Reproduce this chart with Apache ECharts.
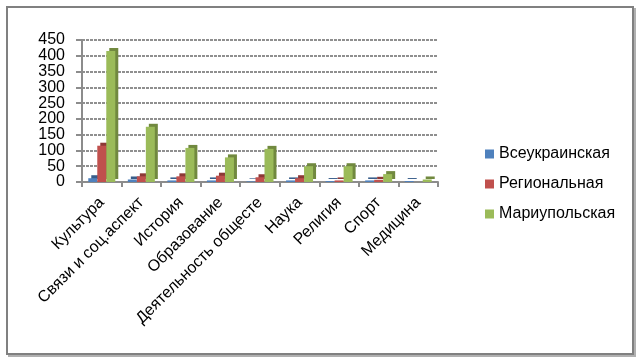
<!DOCTYPE html>
<html>
<head>
<meta charset="utf-8">
<script src="https://cdn.jsdelivr.net/npm/echarts@6/dist/echarts.min.js"></script>
<style>
  html, body { margin: 0; padding: 0; background: #fff; }
  #frame {
    position: absolute; left: 6px; top: 6px; width: 628px; height: 349px;
    border: 2px solid #808080; box-sizing: border-box;
    box-shadow: 2px 2px 0 #b0b0b0;
  }
  #chart { position: absolute; left: 0; top: 0; width: 642px; height: 363px; }
</style>
</head>
<body>
<div id="frame"></div>
<div id="chart"></div>
<script>
const categories = ['Культура', 'Связи и соц.аспект', 'История', 'Образование',
  'Деятельность общесте', 'Наука', 'Религия', 'Спорт', 'Медицина'];
const allUkraine = [12, 8, 5, 5, 2, 5, 3, 5, 3];
const regional = [115, 18, 18, 20, 15, 12, 5, 7, 0];
const mariupol = [415, 175, 108, 78, 105, 50, 50, 25, 8];
const seriesNames = ['Всеукраинская', 'Региональная', 'Мариупольская'];
const Y_MAX = 450;
const Y_STEP = 50;

const FONT = 'Liberation Sans';

const makeSeries = (name, data, color, side) => ({
  name: name,
  type: 'bar',
  data: data,
  yAxisIndex: 0,
  barWidth: 9,
  barGap: '0%',
  itemStyle: {
    color: color,
    shadowColor: side,
    shadowBlur: 0,
    shadowOffsetX: 3,
    shadowOffsetY: -3,
  },
});

// labels are split over two overlaid axes so that none of them get hidden
const labelAxis = (keep, showMin, showMax) => ({
  type: 'value',
  position: 'left',
  offset: 0,
  min: 0,
  max: Y_MAX,
  interval: Y_STEP,
  axisLine: { show: false },
  axisTick: { show: false },
  splitLine: { show: false },
  axisLabel: {
    fontSize: 16,
    color: '#000',
    fontFamily: FONT,
    margin: 17,
    showMinLabel: showMin,
    showMaxLabel: showMax,
    formatter: (v) => (keep(v) ? String(v) : ''),
  },
});

const chart = echarts.init(document.getElementById('chart'), null, { renderer: 'canvas' });
chart.setOption({
  animation: false,
  textStyle: { fontFamily: FONT },
  legend: {
    orient: 'vertical',
    left: 480,
    top: 141,
    itemWidth: 9,
    itemHeight: 9,
    itemGap: 14,
    icon: 'rect',
    textStyle: { fontSize: 16, color: '#000', fontFamily: FONT },
    data: seriesNames,
  },
  grid: { left: 82, right: 204, top: 40, bottom: 181 },
  xAxis: {
    type: 'category',
    data: categories,
    axisLine: { lineStyle: { color: '#8c8c8c', width: 2 } },
    axisTick: { show: true, length: 5, lineStyle: { color: '#8c8c8c', width: 2 } },
    axisLabel: {
      rotate: 45,
      interval: 0,
      fontSize: 16,
      color: '#000',
      fontFamily: FONT,
      margin: 18,
    },
  },
  yAxis: [
    {
      type: 'value',
      position: 'left',
      min: 0,
      max: Y_MAX,
      interval: Y_STEP,
      axisLine: { show: true, lineStyle: { color: '#8c8c8c', width: 2 } },
      axisTick: { show: true, length: 6, lineStyle: { color: '#8c8c8c', width: 2 } },
      axisLabel: { show: false },
      splitLine: { lineStyle: { color: '#8f8f8f', width: 2, type: [3, 1] } },
    },
    labelAxis((v) => v % 100 === 0, true, false),
    labelAxis((v) => v % 100 !== 0, false, true),
  ],
  series: [
    makeSeries(seriesNames[0], allUkraine, '#4F81BD', '#385D8A'),
    makeSeries(seriesNames[1], regional, '#C0504D', '#8C3836'),
    makeSeries(seriesNames[2], mariupol, '#9BBB59', '#71893F'),
  ],
});
</script>
</body>
</html>
